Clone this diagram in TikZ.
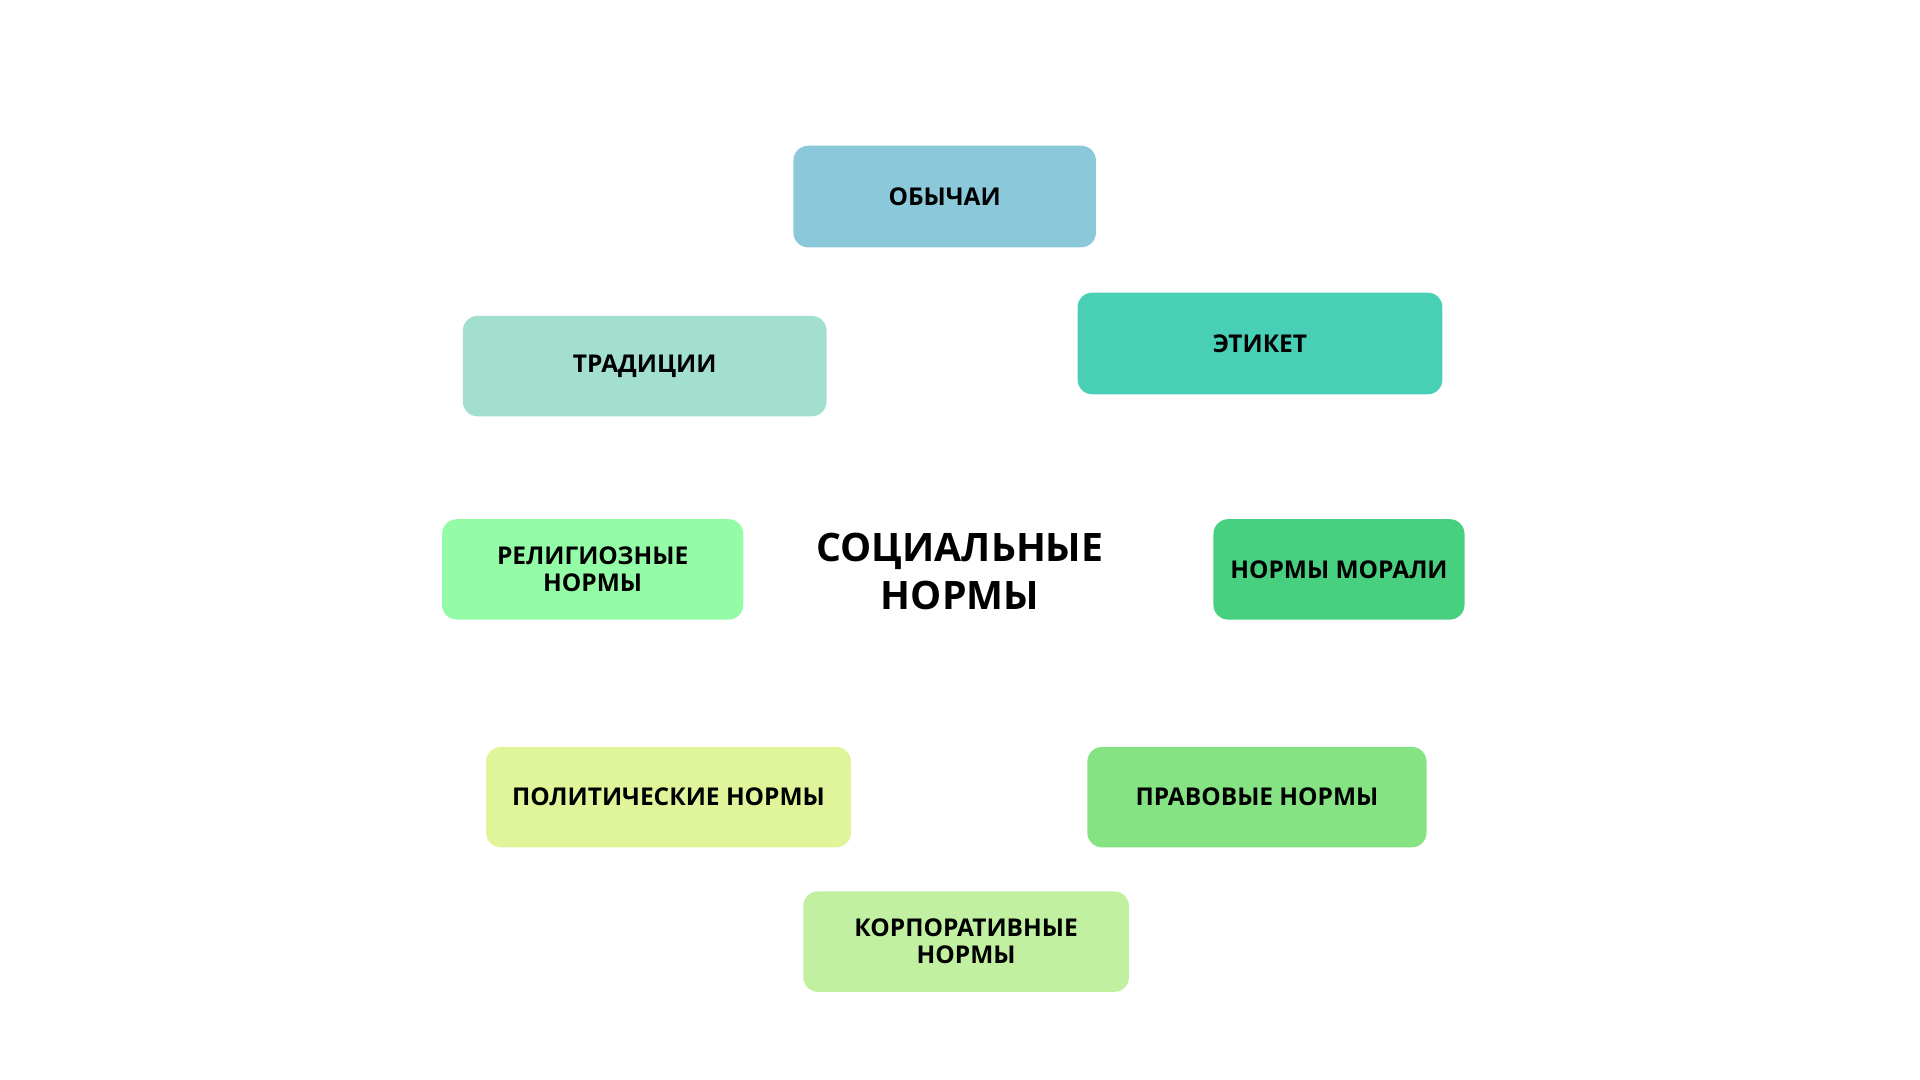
\documentclass[tikz,border=0pt]{standalone}
\usepackage{fontspec}
\setmainfont{Open Sans}
\begin{document}
\begin{tikzpicture}[x=0.5pt,y=-0.5pt,
  box/.style={rounded corners=6pt,inner sep=0pt,align=center,font=\bfseries\fontsize{10}{11}\selectfont,text=black},
  arcl/.style={line width=0.6pt}]
\useasboundingbox (0,0) rectangle (1568,882);
\def\bx#1#2#3#4#5#6#7{\fill[#6,rounded corners=6pt] (#2,#4) rectangle (#3,#5);
  \node[box] (#1) at ({(#2+#3)/2},{(#4+#5)/2}) {#7};}
\definecolor{c1}{HTML}{8AC8DA}\definecolor{c2}{HTML}{48CFB6}\definecolor{c3}{HTML}{46D07F}
\definecolor{c4}{HTML}{86E384}\definecolor{c5}{HTML}{C0F0A0}\definecolor{c6}{HTML}{E0F59A}
\definecolor{c7}{HTML}{94FBA6}\definecolor{c8}{HTML}{A2DFCF}
\bx{a}{648}{895}{119}{202}{c1}{ОБЫЧАИ}
\bx{b}{880}{1178}{239}{322}{c2}{ЭТИКЕТ}
\bx{c}{991}{1196}{424}{506}{c3}{НОРМЫ МОРАЛИ}
\bx{d}{888}{1165}{610}{692}{c4}{ПРАВОВЫЕ НОРМЫ}
\bx{e}{656}{922}{728}{810}{c5}{КОРПОРАТИВНЫЕ\\НОРМЫ}
\bx{f}{397}{695}{610}{692}{c6}{ПОЛИТИЧЕСКИЕ НОРМЫ}
\bx{g}{361}{607}{424}{506}{c7}{РЕЛИГИОЗНЫЕ\\НОРМЫ}
\bx{h}{378}{675}{258}{340}{c8}{ТРАДИЦИИ}
\node[align=center,font=\bfseries\fontsize{16}{19.5}\selectfont] (t) at (784,467) {СОЦИАЛЬНЫЕ\\НОРМЫ};
\coordinate (o) at (784,465);
\def\ar#1#2#3{\draw[arcl,#3] ($(o)+({306*cos(#1)},{-306*sin(#1)})$) arc[start angle=-#1,end angle=-#2,radius=306];}
\end{tikzpicture}
\end{document}
